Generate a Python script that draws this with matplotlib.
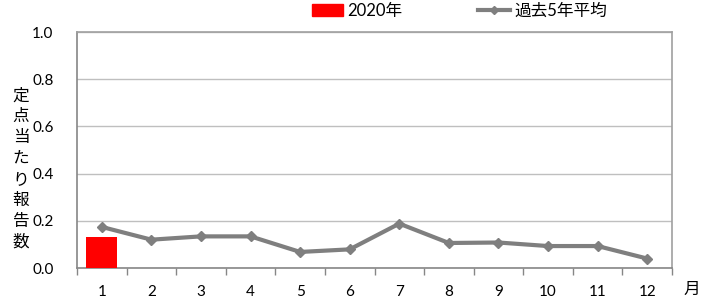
import matplotlib
matplotlib.use("Agg")
import matplotlib.pyplot as plt
from matplotlib.lines import Line2D
from matplotlib.patches import Patch

plt.rcParams['font.family'] = ['Lato', 'Noto Sans CJK JP', 'DejaVu Sans']

# ─── Données ─────────────────────────────────────────────
months = ["1", "2", "3", "4", "5", "6", "7", "8", "9", "10", "11", "12"]
values_2020 = [0.130]
avg_5yr = [0.174, 0.120, 0.134, 0.134, 0.068, 0.079, 0.188, 0.106, 0.108, 0.093, 0.093, 0.040]

fig = plt.figure(figsize=(7.11, 2.99), dpi=100)
ax = fig.add_axes([77 / 711, 1 - 268 / 299, 595 / 711, 236 / 299])

x = list(range(len(months)))
ax.bar(x[:len(values_2020)], values_2020, width=0.62, color="#FF0000", zorder=3)
ax.plot(x, avg_5yr, color="#7F7F7F", linewidth=3, marker="D", markersize=5,
        zorder=4, solid_capstyle="round")

ax.set_xlim(-0.5, len(months) - 0.5)
ax.set_ylim(0, 1.0)
ax.set_yticks([0, 0.2, 0.4, 0.6, 0.8, 1.0])
ax.set_yticklabels([f"{v:.1f}" for v in [0, 0.2, 0.4, 0.6, 0.8, 1.0]])
ax.yaxis.grid(True, color="#BFBFBF", linewidth=1, zorder=0)
ax.tick_params(axis="y", length=0, pad=17, labelsize=11, colors="#000000")

# ticks x : repères entre catégories, labels centrés
ax.set_xticks([i - 0.5 for i in range(len(months) + 1)], minor=False)
ax.set_xticklabels([])
ax.set_xticks(x, minor=True)
ax.set_xticklabels(months, minor=True)
ax.tick_params(axis="x", which="major", length=5, direction="out", color="#868686", width=1)
ax.tick_params(axis="x", which="minor", length=0, pad=12, labelsize=11)

for side in ["left", "bottom", "right", "top"]:
    ax.spines[side].set_color("#868686")
    ax.spines[side].set_linewidth(1.2)
ax.spines["top"].set_color("#A0A0A0")
ax.spines["right"].set_color("#A0A0A0")

# label y vertical empilé
fig.text(21 / 711, 1 - 169 / 299, "\n".join("定点当たり報告数"), ha="center", va="center",
         fontsize=12, linespacing=1.3, family=['Noto Sans CJK JP', 'DejaVu Sans'])
fig.text(692 / 711, 1 - 289 / 299, "月", ha="center", va="center", fontsize=12,
         family=['Noto Sans CJK JP', 'DejaVu Sans'])

handles = [Patch(color="#FF0000"),
           Line2D([], [], color="#7F7F7F", linewidth=3, marker="D", markersize=4)]
fig.legend(handles, ["2020年", "過去5年平均"], loc="center left",
           bbox_to_anchor=(300 / 711, 1 - 11 / 299),
           ncol=2, frameon=False, handlelength=1.9, columnspacing=4.55,
           handletextpad=0.25, borderpad=0.2,
           prop={'family': ['Lato', 'Noto Sans CJK JP'], 'size': 12})

fig.savefig("out.png", dpi=100)
